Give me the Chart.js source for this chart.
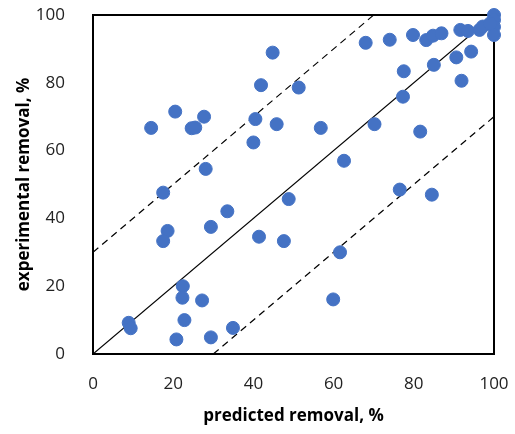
<!DOCTYPE html>
<html>
<head>
<meta charset="utf-8">
<script src="https://cdn.jsdelivr.net/npm/chart.js"></script>
<style>
  html, body { margin: 0; padding: 0; background: #fff; }
  #wrap { width: 515px; height: 434px; }
</style>
</head>
<body>
<div id="wrap"><canvas id="parity"></canvas></div>
<script>
// predicted vs experimental removal, %
const predicted = [44.8, 41.9, 51.3, 20.5, 27.7, 14.5, 24.6, 25.5, 40.5, 45.8, 40.0, 28.1, 17.5,
  68.0, 74.0, 79.8, 83.1, 84.8, 86.9, 91.6, 93.5, 96.4, 97.2, 100, 100, 100, 100, 99.0,
  94.3, 90.6, 85.0, 77.5, 91.9, 77.3, 56.8, 70.2, 81.6, 62.6, 76.5, 84.5,
  33.5, 48.8, 18.6, 17.5, 29.4, 41.4, 47.6, 22.4, 22.3, 27.2, 22.8, 8.9, 9.4, 34.9, 20.8, 29.4,
  61.6, 59.9];
const experimental = [88.9, 79.3, 78.6, 71.5, 70.0, 66.7, 66.6, 66.8, 69.3, 67.8, 62.4, 54.6, 47.6,
  91.8, 92.7, 94.1, 92.6, 93.9, 94.6, 95.6, 95.3, 95.6, 96.6, 100, 98.5, 96.5, 94.1, 97.5,
  89.2, 87.5, 85.3, 83.4, 80.6, 75.9, 66.7, 67.8, 65.6, 57.0, 48.5, 47.0,
  42.1, 45.7, 36.3, 33.3, 37.5, 34.6, 33.3, 20.0, 16.6, 15.8, 10.0, 9.2, 7.6, 7.7, 4.3, 4.9,
  30.0, 16.1];
const axisTicks = [0, 20, 40, 60, 80, 100];
const bandOffset = 30;

const points = predicted.map((p, i) => ({ x: p, y: experimental[i] }));

const frame = {
  id: 'frame',
  beforeDatasetsDraw(chart) {
    const a = chart.chartArea, ctx = chart.ctx;
    ctx.save();
    ctx.strokeStyle = '#000';
    ctx.lineWidth = 2;
    ctx.strokeRect(a.left, a.top, a.right - a.left, a.bottom - a.top);
    ctx.restore();
  }
};

const family = '"Open Sans", Lato, sans-serif';
const tickFont = { family: family, size: 17 };
const titleFont = { family: family, size: 17, weight: 'bold' };

new Chart('parity', {
  type: 'scatter',
  data: {
    datasets: [{
      data: points,
      backgroundColor: '#4472C4',
      borderColor: '#4472C4',
      pointRadius: 6.5,
      pointHoverRadius: 6.5,
      clip: false,
      order: 0
    }, {
      type: 'line',
      data: [{ x: 0, y: 0 }, { x: 100, y: 100 }],
      borderColor: '#000',
      borderWidth: 1.2,
      pointRadius: 0,
      order: 1
    }, {
      type: 'line',
      data: [{ x: 0, y: bandOffset }, { x: 100 - bandOffset, y: 100 }],
      borderColor: '#000',
      borderWidth: 1.2,
      borderDash: [7, 5],
      pointRadius: 0,
      order: 1
    }, {
      type: 'line',
      data: [{ x: bandOffset, y: 0 }, { x: 100, y: 100 - bandOffset }],
      borderColor: '#000',
      borderWidth: 1.2,
      borderDash: [7, 5],
      pointRadius: 0,
      order: 1
    }]
  },
  options: {
    responsive: true,
    maintainAspectRatio: false,
    animation: false,
    layout: { padding: { top: 15, right: 21, left: 0, bottom: 0 } },
    plugins: { legend: { display: false }, tooltip: { enabled: false } },
    scales: {
      x: {
        type: 'linear', min: 0, max: 100,
        afterBuildTicks: s => { s.ticks = axisTicks.map(v => ({ value: v })); },
        afterFit: s => { s.height = 80; s.paddingLeft = 0; s.paddingRight = 0; },
        grid: { display: false },
        border: { display: false },
        ticks: { color: '#222', font: tickFont, padding: 12 },
        title: { display: true, text: 'predicted removal, %', color: '#000',
          font: titleFont, padding: { top: 4, bottom: 8 } }
      },
      y: {
        type: 'linear', min: 0, max: 100,
        afterBuildTicks: s => { s.ticks = axisTicks.map(v => ({ value: v })); },
        afterFit: s => { s.width = 93; s.paddingTop = 0; s.paddingBottom = 0; },
        grid: { display: false },
        border: { display: false },
        ticks: { color: '#222', font: tickFont, padding: 20 },
        title: { display: true, text: 'experimental removal, %', color: '#000',
          font: titleFont, padding: { top: 14, bottom: 4 } }
      }
    }
  },
  plugins: [frame]
});
</script>
</body>
</html>
